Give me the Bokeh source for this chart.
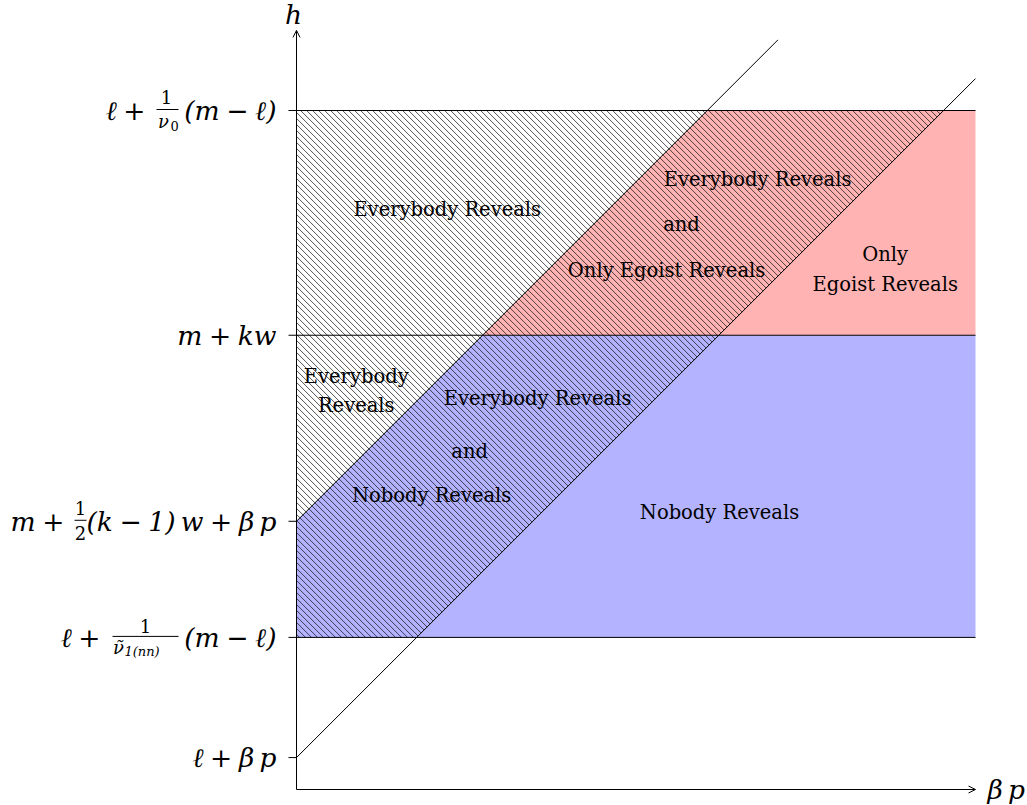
from bokeh.plotting import figure
from bokeh.models import Arrow, OpenHead
from bokeh.core.properties import value
from bokeh.embed import file_html
from bokeh.resources import INLINE

# ---------------- data (abstract units) ----------------
level_ell_bp = 0.47      # l + beta p
level_nu1 = 2.24         # l + 1/nu1(nn) (m - l)
level_half = 3.95        # m + 1/2 (k-1) w + beta p
level_mkw = 6.69         # m + k w
level_nu0 = 10.0         # l + 1/nu0 (m - l)
full_levels = [level_nu1, level_mkw, level_nu0]    # drawn across the whole width
tick_only_levels = [level_ell_bp, level_half]      # only a tick on the h axis
x_max = 10.0
line_slope = 1.0
line_a_intercept = level_ell_bp
line_b_intercept = level_half
line_b_x_end = 7.09
y_axis_top = 11.18

region_labels = ["Everybody Reveals", "Everybody Reveals", "and", "Only Egoist Reveals",
                 "Only", "Egoist Reveals", "Everybody", "Reveals",
                 "Everybody Reveals", "and", "Nobody Reveals", "Nobody Reveals"]
region_x = [2.22, 6.79, 5.67, 5.45, 8.67, 8.67, 0.88, 0.88, 3.55, 2.55, 1.99, 6.23]
region_y = [8.54, 8.98, 8.32, 7.64, 7.88, 7.44, 6.08, 5.66, 5.76, 4.98, 4.33, 4.08]

# ---------------- layout ----------------
S = 67.9  # pixels per unit
W, H = 1027, 805
OX, OY = 296, 789  # origin position on the canvas
p = figure(width=W, height=H, x_range=(-OX / S, (W - OX) / S), y_range=(-(H - OY) / S, OY / S),
           output_backend="svg", toolbar_location=None, x_axis_location=None, y_axis_location=None,
           min_border=0, outline_line_color=None, background_fill_color="white")
p.xgrid.visible = False
p.ygrid.visible = False


def xa(y):
    return (y - line_a_intercept) / line_slope


def xb(y):
    return (y - line_b_intercept) / line_slope


# coloured regions
red_x = [xb(level_nu0), x_max, x_max, xb(level_mkw)]
red_y = [level_nu0, level_nu0, level_mkw, level_mkw]
p.patch(red_x, red_y, fill_color="#ffb3b3", line_color=None)

blue_x = [xb(level_mkw), x_max, x_max, 0, 0]
blue_y = [level_mkw, level_mkw, level_nu1, level_nu1, level_half]
p.patch(blue_x, blue_y, fill_color="#b3b3ff", line_color=None)

# hatching of the "Everybody Reveals" region: left of line A, between level_nu1 and level_nu0
step = 6.0 / S
hx, hy = [], []
c = level_nu1 + step / 2
while c < level_nu0 + xa(level_nu0):
    lo = max(0.0, c - level_nu0)
    hi = min(c - level_nu1, (c - line_a_intercept) / 2)
    if hi > lo:
        hx.append([lo, hi])
        hy.append([c - lo, c - hi])
    c += step
p.multi_line(hx, hy, line_color="black", line_width=0.8, line_alpha=0.85)

# level lines and ticks
tick = 8 / S
n = len(full_levels)
p.segment(x0=[-tick] * n, y0=full_levels, x1=[x_max] * n, y1=full_levels, line_color="black", line_width=1)
m = len(tick_only_levels)
p.segment(x0=[-tick] * m, y0=tick_only_levels, x1=[0] * m, y1=tick_only_levels, line_color="black", line_width=1)

# diagonal lines
p.line([0, x_max], [line_a_intercept, line_a_intercept + line_slope * x_max], line_color="black", line_width=1)
p.line([0, line_b_x_end], [line_b_intercept, line_b_intercept + line_slope * line_b_x_end],
       line_color="black", line_width=1)

# axes
p.add_layout(Arrow(end=OpenHead(size=7, line_width=1), x_start=0, y_start=0, x_end=x_max, y_end=0,
                   line_width=1, line_color="black"))
p.add_layout(Arrow(end=OpenHead(size=7, line_width=1), x_start=0, y_start=0, x_end=0, y_end=y_axis_top,
                   line_width=1, line_color="black"))

FONT = "DejaVu Serif"


def t(x, y, s, size, align="center", style="normal", baseline="middle"):
    p.text(x=[x], y=[y], text=[s], text_font=value(FONT), text_font_size=f"{size}px",
           text_font_style=style, text_align=align, text_baseline=baseline, text_color="black")


def bar(cx_px, y, w_px):
    p.segment(x0=[(cx_px - w_px / 2) / S], y0=[y], x1=[(cx_px + w_px / 2) / S], y1=[y],
              line_color="black", line_width=1)


SP = "\u2005"   # medium math space
TH = "\u2009"   # thin space
MS = 26.5       # math size
FS = 18         # fraction size
SS = 13         # sub-script size

# region texts
for s, x, y in zip(region_labels, region_x, region_y):
    t(x, y, s, 19.5)

# y tick labels (pixel offsets relative to the origin / level)
R = -20 / S
# l + 1/nu0 (m - l)
y0 = level_nu0
t(-151 / S, y0, "\u2113" + SP + "+", MS, "right", "italic")
t(-130 / S, y0 + 14 / S, "1", FS, "center", "normal")
bar(-129, y0 + 1 / S, 22)
t(-133 / S, y0 - 11 / S, "\u03bd", FS, "center", "italic")
t(-126 / S, y0 - 15 / S, "0", SS, "left", "normal")
t(R, y0, "(m" + SP + "\u2212" + SP + "\u2113)", MS, "right", "italic")

# m + kw
t(R, level_mkw, "m" + SP + "+" + SP + "kw", MS, "right", "italic")

# m + 1/2 (k-1) w + beta p
y0 = level_half
t(-232 / S, y0, "m" + SP + "+", MS, "right", "italic")
t(-216 / S, y0 + 13 / S, "1", FS, "center", "normal")
bar(-216, y0 + 1 / S, 12)
t(-216 / S, y0 - 12 / S, "2", FS, "center", "normal")
t(R, y0, "(k" + SP + "\u2212" + SP + "1)" + TH + "w" + SP + "+" + SP + "\u03b2" + TH + "p", MS, "right", "italic")

# l + 1/nu1(nn) (m - l)
y0 = level_nu1
t(-196 / S, y0, "\u2113" + SP + "+", MS, "right", "italic")
t(-151 / S, y0 + 11 / S, "1", FS, "center", "normal")
bar(-151, y0 + 1 / S, 66)
t(-178 / S, y0 - 10 / S, "\u03bd\u0303", FS, "center", "italic")
t(-172 / S, y0 - 14 / S, "1(nn)", SS, "left", "italic")
t(R, y0, "(m" + SP + "\u2212" + SP + "\u2113)", MS, "right", "italic")

# l + beta p
t(R, level_ell_bp, "\u2113" + SP + "+" + SP + "\u03b2" + TH + "p", MS, "right", "italic")

# axis labels
t(-3 / S, y_axis_top + 16 / S, "h", MS, "center", "italic")
t(x_max + 12 / S, 0, "\u03b2" + TH + "p", MS, "left", "italic")

open("out.html", "w").write(file_html(p, INLINE))
